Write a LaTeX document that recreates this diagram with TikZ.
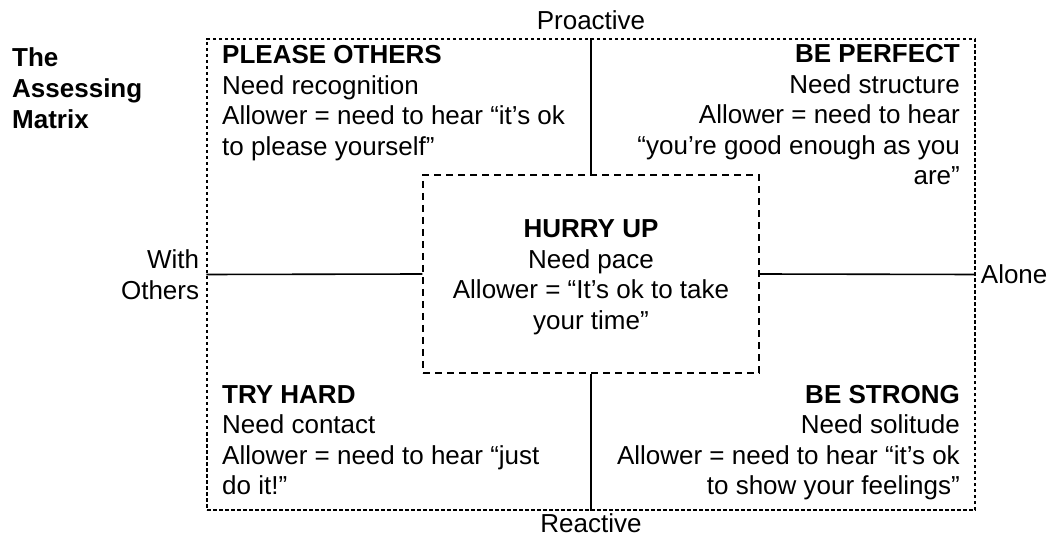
\documentclass[tikz,border=0pt]{standalone}
\usepackage{fontspec}
\setmainfont{Liberation Sans}
\usetikzlibrary{positioning}
\tikzset {
  % frame of the whole matrix and of the centre box
  frame/.style = {
    draw = black,
    line width = 1.4pt,
    inner sep = 0
  },
  outer frame/.style = {
    frame,
    dash pattern = on 3.5pt off 2.5pt,
    minimum width = 768pt,
    minimum height = 471pt
  },
  centre frame/.style = {
    frame,
    dash pattern = on 7pt off 5pt,
    minimum width = 336pt,
    minimum height = 198pt
  },
  % solid lines between the frames
  axis line/.style = {
    draw = black,
    line width = 1.6pt
  }
}
\tikzset {
  txt/.style = {
    font = \fontsize{26}{30.5}\selectfont,
    inner sep = 0
  },
  % text of a quadrant
  quad left/.style = {
    txt,
    align = left,
    anchor = north west
  },
  quad right/.style = {
    txt,
    align = right,
    anchor = north east
  },
  % end of an axis
  axis text/.style = {
    txt
  },
  node distance = 7pt
}
\begin{document}
\begin{tikzpicture}[x = 1pt, y = -1pt]
  \useasboundingbox (0,0) rectangle (1058,537);

  \node[outer frame] (matrix) at (591,274.5) {};
  \node[centre frame] (hurry) at (591,274) {};

  \draw[axis line] (matrix.north) -- (hurry.north);
  \draw[axis line] (hurry.south) -- (matrix.south);
  \draw[axis line] (matrix.west) -- (hurry.west);
  \draw[axis line] (hurry.east) -- (matrix.east);

  % title
  \node[quad left, font = \fontsize{26}{31}\selectfont\bfseries] (title) at (12,47.5)
    {The\\Assessing\\Matrix};

  % the four quadrants and the centre
  \node[quad left] (please) at (222,45.5)
    {\textbf{PLEASE OTHERS}\\Need recognition\\Allower = need to hear “it’s ok\\to please yourself”};
  \node[quad right] (perfect) at (960,44.5)
    {\textbf{BE PERFECT}\\Need structure\\Allower = need to hear\\“you’re good enough as you\\are”};
  \node[quad left] (try) at (222,385)
    {\textbf{TRY HARD}\\Need contact\\Allower = need to hear “just\\do it!”};
  \node[quad right] (strong) at (960,385)
    {\textbf{BE STRONG}\\Need solitude\\Allower = need to hear “it’s ok\\to show your feelings”};
  \node[txt, align = center, anchor = north] (pace) at (591,219.5)
    {\textbf{HURRY UP}\\Need pace\\Allower = “It’s ok to take\\your time”};

  % axes
  \node[axis text] (proactive) [above = 8pt of matrix] {Proactive};
  \node[axis text] (reactive) [below = 3pt of matrix] {Reactive};
  \node[axis text, align = right] (others) [left = of matrix] {With\\Others};
  \node[axis text] (alone) [right = 5pt of matrix] {Alone};
\end{tikzpicture}
\end{document}
